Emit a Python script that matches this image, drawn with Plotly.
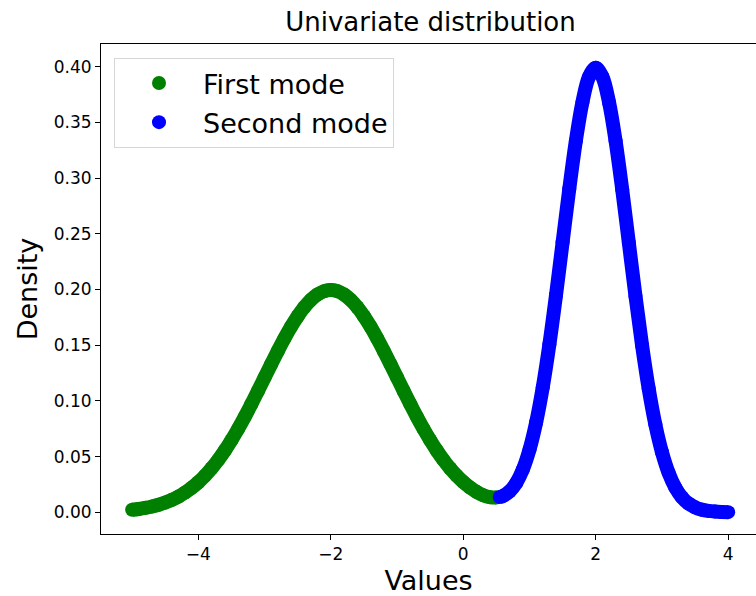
import plotly.graph_objects as go

# Mixture density sampled on a 0.1 grid, split into its two modes
first_x = [-5.0, -4.9, -4.8, -4.7, -4.6, -4.5, -4.4, -4.3, -4.2, -4.1,
           -4.0, -3.9, -3.8, -3.7, -3.6, -3.5, -3.4, -3.3, -3.2, -3.1,
           -3.0, -2.9, -2.8, -2.7, -2.6, -2.5, -2.4, -2.3, -2.2, -2.1,
           -2.0, -1.9, -1.8, -1.7, -1.6, -1.5, -1.4, -1.3, -1.2, -1.1,
           -1.0, -0.9, -0.8, -0.7, -0.6, -0.5, -0.4, -0.3, -0.2, -0.1,
           0.0, 0.1, 0.2, 0.3, 0.4, 0.5]
first_y = [0.00222, 0.00298, 0.00396, 0.00521, 0.00679, 0.00876, 0.01120, 0.01416, 0.01774, 0.02199,
           0.02700, 0.03281, 0.03948, 0.04702, 0.05546, 0.06476, 0.07486, 0.08568, 0.09709, 0.10893,
           0.12099, 0.13304, 0.14485, 0.15613, 0.16661, 0.17603, 0.18413, 0.19069, 0.19552, 0.19848,
           0.19947, 0.19848, 0.19552, 0.19069, 0.18413, 0.17603, 0.16661, 0.15613, 0.14485, 0.13304,
           0.12099, 0.10893, 0.09709, 0.08568, 0.07486, 0.06476, 0.05546, 0.04702, 0.03948, 0.03287,
           0.02713, 0.02228, 0.01835, 0.01539, 0.01358, 0.01319]

second_x = [0.55, 0.6, 0.7, 0.8, 0.9, 1.0, 1.1, 1.2, 1.3, 1.4,
            1.5, 1.6, 1.7, 1.8, 1.9, 2.0, 2.1, 2.2, 2.3, 2.4,
            2.5, 2.6, 2.7, 2.8, 2.9, 3.0, 3.1, 3.2, 3.3, 3.4,
            3.5, 3.6, 3.7, 3.8, 3.9, 4.0]
second_y = [0.01368, 0.01471, 0.01879, 0.02636, 0.03845, 0.05621, 0.08058, 0.11211, 0.15059, 0.19481,
            0.24241, 0.29000, 0.33344, 0.36842, 0.39114, 0.39901, 0.39109, 0.36830, 0.33325, 0.28970,
            0.24197, 0.19419, 0.14973, 0.11092, 0.07895, 0.05399, 0.03547, 0.02240, 0.01358, 0.00792,
            0.00443, 0.00238, 0.00123, 0.00061, 0.00029, 0.00013]

series_names = ["First mode", "Second mode"]
series_colors = ["#008000", "#0000ff"]

y_ticks = [0.0, 0.05, 0.10, 0.15, 0.20, 0.25, 0.30, 0.35, 0.40]
x_ticks = [-4, -2, 0, 2, 4]
x_tick_text = ["\u22124", "\u22122", "0", "2", "4"]

FONT = "DejaVu Sans"
DOT = 14

W, H = 756, 596
ML, MR, MT, MB = 101, 0, 44, 62
PW, PH = W - ML - MR, H - MT - MB

fig = go.Figure()
for xs, ys, name, color in zip([first_x, second_x], [first_y, second_y],
                               series_names, series_colors):
    # thick smooth band joining the samples
    fig.add_trace(go.Scatter(
        x=xs, y=ys, mode="lines", line=dict(color=color, width=DOT, shape="spline"),
        legendgroup=name, showlegend=False, hoverinfo="skip"))
    # round dots at every sample (also gives the legend its dot)
    fig.add_trace(go.Scatter(
        x=xs, y=ys, mode="markers", name=name, legendgroup=name,
        marker=dict(color=color, size=DOT, line=dict(width=0))))

fig.update_layout(
    width=W, height=H,
    margin=dict(l=ML, r=MR, t=MT, b=MB, autoexpand=False),
    paper_bgcolor="white", plot_bgcolor="white",
    font=dict(family=FONT, color="black"),
    title=dict(text="Univariate distribution", font=dict(size=26, family=FONT),
               x=430.5 / W, xanchor="center", xref="container",
               y=1 - 22 / H, yanchor="middle", yref="container"),
    legend=dict(x=(114 - ML) / PW, y=1 - (58 - MT) / PH, xref="paper", yref="paper",
                xanchor="left", yanchor="top",
                font=dict(size=27, family=FONT),
                bgcolor="rgba(255,255,255,0.8)", bordercolor="#d6d6d6", borderwidth=1,
                itemwidth=78, tracegroupgap=1),
    showlegend=True,
)
fig.update_xaxes(
    range=[-5.47, 4.42], showgrid=False, zeroline=False, automargin=False,
    showline=True, linecolor="black", linewidth=1, mirror=True,
    ticks="outside", ticklen=5, tickwidth=1, tickcolor="black",
    tickvals=x_ticks, ticktext=x_tick_text, tickfont=dict(size=17, family=FONT),
    title=dict(text="Values", font=dict(size=27, family=FONT), standoff=8),
)
fig.update_yaxes(
    range=[-0.0195, 0.4204], showgrid=False, zeroline=False, automargin=False,
    showline=True, linecolor="black", linewidth=1, mirror=False,
    ticks="outside", ticklen=5, tickwidth=1, tickcolor="black",
    tickvals=y_ticks, tickformat=".2f", tickfont=dict(size=17, family=FONT),
    title=dict(text="Density", font=dict(size=27, family=FONT), standoff=8),
)

fig.write_html("out.html")
